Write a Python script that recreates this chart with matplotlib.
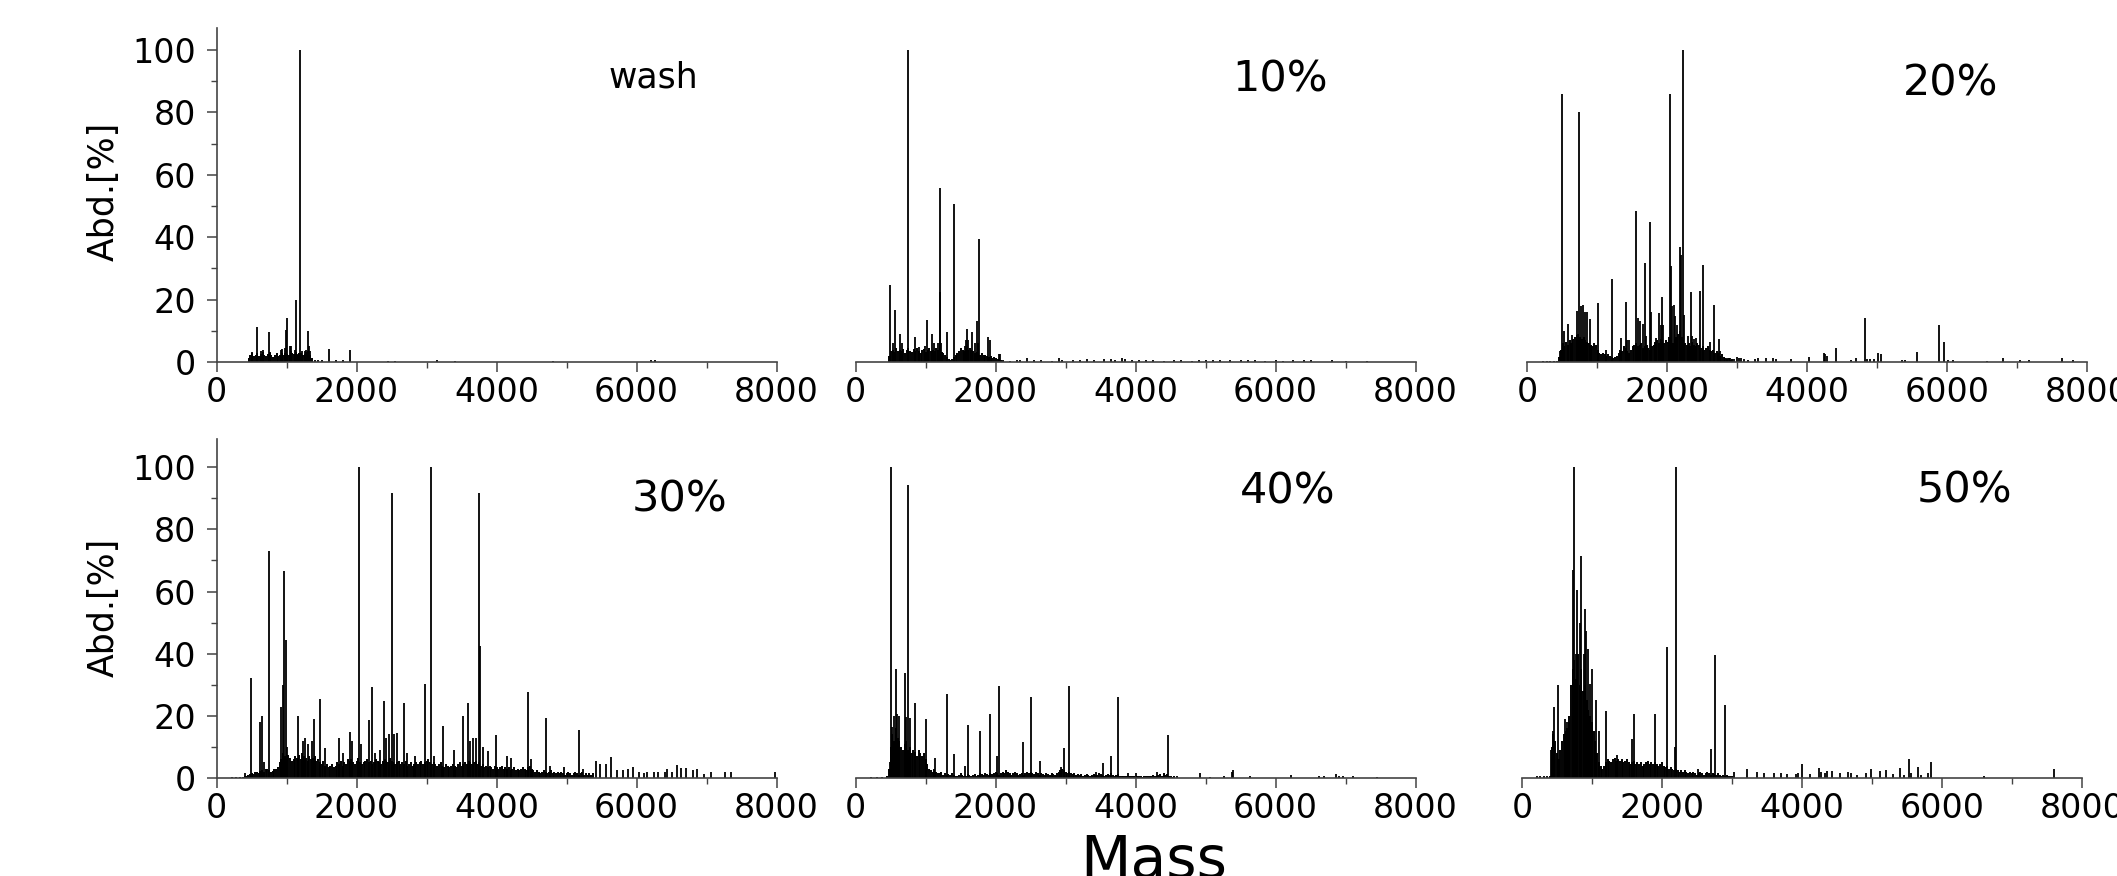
import numpy as np
import matplotlib
matplotlib.use('Agg')
import matplotlib.pyplot as plt
from matplotlib.ticker import MultipleLocator

plt.rcParams['font.family'] = ['DejaVu Sans']

# ---- Daten: (Masse, Abundanz %) der Peaks ----
wash_peaks = [(460, 1.0), (500, 3.2), (575, 11.1), (630, 3.5), (670, 3.8), (743, 9.5), (760, 3.2),
              (920, 4.0), (935, 4.2), (985, 4.5), (998, 10.4), (1012, 14.1), (1050, 5.0), (1069, 5.2),
              (1115, 4.0), (1131, 20.0), (1165, 2.6), (1199, 100.0), (1215, 3.4), (1265, 3.4),
              (1280, 4.0), (1304, 9.8), (1315, 5.0), (1330, 3.4), (1345, 1.0), (1400, 0.8), (1450, 0.8),
              (1500, 0.8), (1606, 4.3), (1700, 0.5), (1800, 0.5), (1908, 3.7), (2450, 0.3), (2550, 0.4),
              (3150, 0.5), (3400, 0.3), (4800, 0.3), (6200, 0.5), (6260, 0.5)]

p10_peaks = [(498, 24.8), (540, 6), (565, 16.6), (642, 9), (660, 6), (757, 100), (852, 8), (910, 4.8),
             (990, 5), (1015, 13.4), (1096, 9), (1115, 6), (1185, 6), (1201, 55.8), (1210, 22.4),
             (1225, 6), (1302, 9.6), (1412, 50.7), (1560, 5), (1575, 7), (1589, 10.7), (1610, 7),
             (1658, 9.5), (1710, 6), (1733, 13.1), (1750, 6), (1766, 39.5), (1886, 8), (1915, 7.2),
             (2050, 2.5), (2068, 2.5), (2100, 0.5), (2200, 0.4), (2300, 0.8), (2350, 0.6), (2450, 1.2),
             (2550, 0.5), (2650, 0.7), (2800, 0.4), (2900, 1.2), (2950, 0.6), (3100, 0.5), (3200, 0.7),
             (3300, 1.0), (3400, 0.8), (3550, 0.9), (3650, 1.1), (3700, 0.7), (3800, 1.3), (3850, 0.9),
             (3950, 0.6), (4050, 0.7), (4150, 0.6), (4250, 0.5), (4400, 0.4), (4550, 0.5), (4650, 0.5),
             (4800, 0.4), (4900, 0.6), (5000, 0.5), (5100, 0.5), (5200, 0.6), (5350, 0.6), (5500, 0.7),
             (5600, 0.6), (5700, 0.5), (5850, 0.4), (6000, 0.5), (6100, 0.4), (6250, 0.5), (6400, 0.7),
             (6500, 0.5), (6800, 0.5), (7000, 0.4), (7300, 0.4)]

p20_peaks = [(230, 0.3), (280, 0.3), (330, 0.3), (380, 0.3), (430, 0.3), (474, 3.4), (497, 86), (526, 9.8),
             (588, 12.3), (640, 8.5), (712, 16.5), (749, 80), (777, 18), (805, 18.2), (835, 16),
             (863, 16), (896, 13.8), (1014, 18.8), (1125, 3.8), (1208, 26.7), (1346, 7.7), (1412, 19.1),
             (1430, 7.2), (1450, 7), (1563, 48.5), (1580, 14), (1615, 13), (1650, 12.2), (1682, 31.7),
             (1700, 8.2), (1753, 45), (1770, 16), (1845, 7.7), (1890, 15.7), (1910, 12), (1928, 20.7),
             (1945, 12), (2042, 86), (2055, 30.9), (2075, 17.8), (2100, 18.4), (2120, 14.8), (2140, 12),
             (2190, 37), (2205, 34.4), (2222, 100), (2240, 15), (2300, 8.2), (2340, 22.4), (2360, 8.2),
             (2380, 7.4), (2420, 7.7), (2478, 22.6), (2515, 31), (2615, 6.4), (2677, 18.2), (2738, 7.4),
             (2760, 3.6), (2850, 1.2), (2900, 1.4), (2960, 1.0), (3000, 1.5), (3030, 1.2), (3060, 1.3),
             (3100, 1.0), (3150, 0.8), (3257, 1.0), (3300, 1.2), (3420, 1.4), (3512, 1.4), (3560, 1.0),
             (3766, 1.0), (4027, 1.5), (4240, 3.0), (4260, 2.5), (4280, 2.0), (4416, 4.6), (4622, 0.5),
             (4700, 1.2), (4834, 14), (4860, 1.0), (4900, 1.0), (4950, 1.0), (5010, 3.0), (5058, 2.6),
             (5350, 0.7), (5400, 0.7), (5574, 3.2), (5889, 11.7), (5950, 6.5), (6020, 0.7), (6080, 0.7),
             (6575, 0.4), (6799, 1.3), (7048, 0.5), (7170, 0.6), (7636, 1.2), (7806, 0.6)]

p30_peaks = [(224, 0.4), (280, 0.4), (330, 0.4), (380, 0.4), (410, 1.5), (495, 32.2), (626, 18), (649, 20),
             (680, 5), (750, 73), (920, 23), (945, 30), (966, 66.7), (989, 44.5), (1010, 10), (1167, 19.8),
             (1230, 12), (1260, 13), (1300, 11), (1360, 12), (1399, 19), (1476, 25.5), (1553, 9.8),
             (1755, 12.9), (1800, 8), (1902, 14.8), (1940, 12), (2033, 100), (2070, 11), (2172, 18.6),
             (2218, 29.3), (2260, 8), (2340, 9), (2388, 24.8), (2420, 13), (2460, 14), (2505, 91.6),
             (2540, 14), (2575, 14.6), (2682, 24), (2720, 8), (2830, 7), (2976, 30.1), (3061, 100),
             (3100, 7), (3239, 16.6), (3393, 9.1), (3525, 19.8), (3587, 24.2), (3620, 12), (3660, 13),
             (3700, 13), (3749, 91.6), (3765, 42.4), (3800, 10), (3880, 8.7), (3989, 13.7), (4150, 7),
             (4210, 6.5), (4452, 27.8), (4490, 6), (4700, 19.3), (4760, 4), (4960, 3.5), (5179, 15.3),
             (5230, 3), (5420, 5.5), (5480, 4.5), (5560, 4.5), (5635, 6.8), (5720, 2.5), (5800, 2.5),
             (5880, 3), (5950, 3.5), (6030, 2), (6100, 1.5), (6150, 2), (6250, 2), (6300, 2), (6400, 2),
             (6430, 2.8), (6500, 2), (6578, 4.2), (6640, 3.2), (6700, 3.2), (6800, 2.5), (6870, 3),
             (6960, 1.3), (7058, 2), (7260, 1.8), (7350, 2), (7985, 1.8)]

p40_peaks = [(216, 0.3), (300, 0.3), (380, 0.3), (452, 0.4), (490, 5), (503, 100), (528, 16.4), (553, 20),
             (579, 35.2), (598, 20.5), (620, 20), (706, 33.8), (725, 19.6), (751, 94.4), (775, 19.3),
             (846, 24.1), (1012, 18.9), (1139, 6.5), (1311, 27.1), (1413, 7.8), (1570, 4), (1610, 17),
             (1776, 15.1), (1916, 20.5), (2025, 7), (2043, 29.7), (2393, 11.6), (2501, 26.1), (2635, 5.5),
             (2935, 3.5), (2978, 9.8), (3055, 29.7), (3430, 2), (3538, 4.8), (3653, 7.1), (3755, 26.1),
             (3890, 1.5), (4000, 1.5), (4300, 2), (4400, 1.3), (4461, 13.7), (4590, 0.8), (4919, 1.5),
             (5065, 0.4), (5270, 0.7), (5385, 2.0), (5397, 2.7), (5640, 0.6), (6224, 1.0), (6625, 0.7),
             (6690, 0.7), (6866, 1.3), (6910, 0.8), (6960, 0.6), (7100, 0.8), (7445, 0.4)]

p50_peaks = [(212, 0.5), (260, 0.5), (310, 0.5), (360, 0.5), (412, 9.1), (436, 15), (461, 23), (509, 29.8),
             (612, 19.1), (636, 18), (667, 18), (727, 66.8), (739, 100), (776, 40), (788, 60.6),
             (830, 50), (848, 71.4), (885, 40), (897, 54.5), (909, 47.3), (939, 41.5), (976, 30.4),
             (994, 35), (1054, 25), (1097, 15), (1200, 21.5), (1363, 7.5), (1576, 12.7), (1600, 20.7),
             (1903, 20.7), (2066, 42.2), (2181, 10), (2200, 100), (2515, 3), (2697, 9.4), (2757, 39.5),
             (2897, 23.6), (3030, 1.8), (3212, 2.8), (3363, 1.8), (3454, 1.5), (3605, 1.5), (3696, 1.5),
             (3787, 1.2), (3908, 1.4), (3939, 1.6), (3994, 4.5), (4120, 1.3), (4241, 3.1), (4272, 2),
             (4333, 1.5), (4363, 2.2), (4424, 2.2), (4545, 1.5), (4654, 1.9), (4696, 1.5), (4787, 1),
             (4909, 1.5), (4987, 2.8), (5121, 2.2), (5200, 2.6), (5303, 1.2), (5394, 3.1), (5454, 1),
             (5527, 6), (5563, 1.5), (5660, 3.7), (5697, 1), (5806, 1.5), (5842, 5.2), (6605, 0.8),
             (7599, 2.8)]

# dichter Untergrund: Abundanz alle 25 Da ab Startmasse
floor_step = 25
wash_floor_start = 460
wash_floor = [1.2, 2.2, 2.8, 2.0, 2.4, 3.0, 2.0, 2.6, 3.2, 2.4, 1.8, 2.6, 3.0, 2.2, 1.6, 2.4, 2.8, 2.0,
              2.4, 2.8, 2.4, 3.0, 2.6, 2.2, 3.4, 3.0, 2.6, 3.2, 2.4, 2.8, 3.0, 2.4, 2.6, 3.2, 3.6, 2.4, 1.2]
p10_floor_start = 480
p10_floor = [2.0, 3.6, 4.0, 3.2, 4.4, 3.4, 4.0, 3.6, 4.2, 3.0, 3.8, 4.5, 3.6, 3.2, 4.2, 3.4, 4.6, 3.4,
             3.0, 3.8, 4.2, 3.2, 3.8, 4.4, 3.6, 4.0, 3.4, 4.6, 3.8, 4.2, 3.2, 3.0, 2.2, 1.6, 1.0, 0.8,
             1.0, 1.6, 2.2, 3.0, 3.6, 4.4, 4.0, 3.6, 4.4, 3.8, 4.6, 3.8, 3.4, 3.0, 3.2, 2.6, 2.4, 2.8,
             2.2, 2.4, 1.8, 1.6, 1.8, 1.4, 1.6, 1.2, 1.0, 0.8, 0.6]
p20_floor_start = 460
p20_floor = [1.5, 4.0, 6.0, 5.0, 6.5, 5.5, 7.0, 6.0, 7.5, 8.0,
             8.5, 9.0, 8.0, 7.5, 8.0, 7.0, 6.5, 6.0, 5.5, 5.0,
             6.0, 5.5, 4.0, 3.0, 2.5, 3.0, 2.5, 2.0, 2.5, 2.0,
             1.5, 1.2, 1.5, 2.0, 3.0, 4.0, 3.5, 5.0, 4.5, 3.5,
             3.0, 4.0, 5.0, 5.5, 6.0, 5.0, 5.5, 6.0, 4.5, 5.0,
             5.5, 4.5, 4.0, 5.0, 5.5, 6.5, 7.0, 6.0, 7.5, 6.5,
             6.0, 7.0, 6.5, 8.0, 7.0, 6.0, 7.5, 8.0, 9.0, 10.0,
             8.0, 7.0, 6.0, 5.5, 6.0, 5.0, 6.5, 5.5, 5.0, 6.0,
             5.5, 4.5, 5.0, 4.0, 4.5, 5.0, 4.0, 3.5, 4.0, 3.0,
             3.5, 3.0, 2.0, 2.5, 1.5, 1.2, 1.0, 1.2, 0.8, 1.0]
p30_floor_start = 400
p30_floor = [0.5, 0.8, 1.0, 1.2, 1.5, 1.2, 1.8, 2.0, 1.5, 2.2,
             2.5, 2.0, 2.8, 3.0, 2.5, 2.0, 2.2, 2.8, 3.0, 3.5,
             5.0, 6.0, 8.0, 7.0, 6.0, 7.5, 6.5, 5.5, 6.0, 7.0,
             6.5, 7.5, 6.0, 8.0, 7.0, 6.5, 5.5, 7.0, 6.0, 6.5,
             7.0, 5.5, 6.0, 5.0, 4.5, 5.5, 4.0, 4.5, 3.5, 4.0,
             4.5, 3.5, 4.0, 5.0, 4.5, 5.5, 4.0, 5.0, 4.5, 6.0,
             5.5, 6.0, 5.0, 4.5, 5.5, 6.5, 5.0, 4.5, 5.0, 5.5,
             6.0, 5.0, 5.5, 4.5, 5.0, 6.0, 5.5, 5.0, 4.5, 5.5,
             6.0, 5.5, 5.0, 6.5, 5.5, 5.0, 4.5, 5.0, 5.5, 4.5,
             5.0, 4.5, 5.5, 4.0, 4.5, 5.0, 4.0, 4.5, 5.0, 4.5,
             5.0, 5.5, 4.5, 5.0, 5.5, 6.0, 5.0, 4.5, 5.0, 4.5,
             4.0, 4.5, 5.0, 4.0, 3.5, 4.5, 4.0, 3.5, 4.0, 4.5,
             4.0, 3.5, 4.5, 5.0, 4.0, 4.5, 5.0, 4.5, 5.5, 5.0,
             4.5, 5.0, 5.5, 4.5, 5.0, 4.0, 4.5, 3.5, 4.0, 3.5,
             4.0, 3.5, 3.0, 4.0, 3.5, 3.0, 3.5, 4.0, 3.0, 3.5,
             3.0, 3.5, 2.5, 3.0, 3.5, 2.5, 3.0, 2.5, 3.0, 3.5,
             3.0, 2.5, 3.5, 4.0, 3.0, 2.5, 2.0, 2.5, 2.0, 1.5,
             2.0, 2.5, 2.0, 1.5, 2.0, 2.5, 1.5, 2.0, 1.5, 2.0,
             1.5, 2.0, 1.5, 1.0, 1.5, 2.0, 1.5, 1.0, 1.5, 2.0,
             1.5, 1.0, 1.5, 2.0, 1.0, 1.5, 1.0, 1.5, 1.0, 1.5]
p40_floor_start = 450
p40_floor = [0.5, 3.0, 10.0, 14.0, 12.0, 16.0, 13.0, 12.0, 10.0, 9.0,
             11.0, 12.0, 9.0, 10.0, 8.0, 9.0, 8.5, 7.0, 9.0, 8.0,
             7.0, 8.0, 6.0, 4.5, 3.0, 2.5, 2.0, 3.0, 2.0, 1.5,
             1.5, 2.0, 1.0, 1.5, 1.0, 1.2, 1.0, 1.5, 1.0, 0.8,
             0.8, 1.0, 1.5, 1.0, 0.5, 0.8, 1.2, 1.0, 0.8, 1.0,
             1.2, 0.8, 1.0, 1.5, 1.2, 1.0, 1.5, 1.2, 1.0, 1.5,
             1.2, 1.5, 2.0, 1.5, 1.0, 1.5, 2.0, 1.5, 2.5, 2.0,
             1.5, 1.0, 1.5, 2.0, 1.5, 1.0, 1.2, 1.5, 1.0, 1.5,
             2.0, 1.5, 2.0, 1.5, 1.2, 2.0, 1.5, 1.0, 1.5, 1.2,
             1.0, 1.5, 1.2, 1.0, 1.5, 1.2, 1.0, 1.5, 2.0, 2.5,
             3.0, 2.5, 2.0, 1.5, 2.0, 1.5, 1.2, 1.5, 1.0, 1.2,
             1.0, 1.2, 0.8, 1.0, 1.2, 1.0, 0.8, 1.0, 1.2, 1.0,
             1.0, 1.5, 1.2, 1.0, 0.8, 1.0, 1.2, 1.0, 1.5, 1.0,
             0.8, 1.0, 1.2, 0.8, 0.5, 0.8, 0.5, 0.8, 0.5, 0.5,
             0.8, 0.5, 0.3, 0.5, 0.8, 0.5, 0.3, 0.5, 0.8, 0.5,
             0.5, 0.8, 1.0, 0.8, 0.5, 1.0, 1.2, 0.8, 1.5, 1.0,
             1.2, 0.8, 0.5, 0.3, 0.5]
p50_floor_start = 400
p50_floor = [0.8, 10.0, 14.0, 12.0, 8.0, 6.0, 9.0, 12.0, 14.0, 15.0,
             16.0, 20.0, 30.0, 35.0, 38.0, 32.0, 40.0, 30.0, 35.0, 28.0,
             30.0, 25.0, 22.0, 20.0, 18.0, 15.0, 12.0, 8.0, 5.0, 4.0,
             3.0, 4.0, 5.0, 6.0, 5.5, 5.0, 6.0, 6.5, 5.5, 6.0,
             5.5, 6.0, 5.0, 5.5, 6.0, 5.0, 4.5, 5.0, 5.5, 4.5,
             5.0, 4.5, 5.0, 4.0, 4.5, 5.0, 5.5, 4.5, 5.0, 4.5,
             5.0, 4.5, 4.0, 4.5, 5.0, 4.0, 3.5, 4.0, 3.0, 3.5,
             3.0, 2.5, 3.0, 2.5, 2.0, 2.5, 2.0, 2.5, 2.0, 1.5,
             2.0, 1.5, 2.0, 1.5, 1.0, 1.5, 2.0, 1.5, 1.0, 1.5,
             2.0, 1.5, 1.0, 1.5, 1.2, 1.0, 1.5, 1.0, 0.8, 1.0,
             0.8, 1.0, 0.5, 0.8, 0.5, 0.3]

panel_names = ['wash', '10%', '20%', '30%', '40%', '50%']
panel_peaks = [wash_peaks, p10_peaks, p20_peaks, p30_peaks, p40_peaks, p50_peaks]
panel_floor = [wash_floor, p10_floor, p20_floor, p30_floor, p40_floor, p50_floor]
panel_floor_start = [wash_floor_start, p10_floor_start, p20_floor_start,
                     p30_floor_start, p40_floor_start, p50_floor_start]
x_ticks = [0, 2000, 4000, 6000, 8000]
y_ticks = [0, 20, 40, 60, 80, 100]

# ---- Layout in Pixeln (Bild 2117 x 876) ----
W, H = 2117, 876
fig = plt.figure(figsize=(W / 100, H / 100), dpi=100)

col_x0 = [[216.5, 855.5, 1527], [216.5, 855.5, 1522]]
ax_w = 560
row_base = [362, 778]          # Pixelzeile der x-Achse
row_top = [107, 109]           # ylim oben
row_pxunit = [3.12, 3.108]     # Pixel pro Prozent
label_pos = [(653, 77), (1280, 80), (1951, 83), (680, 500), (1288, 492), (1965, 490)]
label_size = [25, 31, 31, 31, 31, 31]

axis_col = '#444444'
for i in range(6):
    r, c = divmod(i, 3)
    h = row_top[r] * row_pxunit[r]
    ax = fig.add_axes([col_x0[r][c] / W, 1 - row_base[r] / H, ax_w / W, h / H])
    ax.patch.set_alpha(0)

    pk = np.array(panel_peaks[i], dtype=float)
    fl = np.array(panel_floor[i], dtype=float)
    fx = panel_floor_start[i] + floor_step * np.arange(len(fl))
    ax.vlines(fx, 0, fl, colors='black', linewidth=1.4)
    ax.vlines(pk[:, 0], 0, pk[:, 1], colors='black', linewidth=1.3)

    ax.set_xlim(0, 8000)
    ax.set_ylim(0, row_top[r])
    ax.set_xticks(x_ticks)
    ax.xaxis.set_minor_locator(MultipleLocator(1000))
    for s in ['top', 'right']:
        ax.spines[s].set_visible(False)
    ax.spines['bottom'].set_color(axis_col)
    ax.spines['bottom'].set_linewidth(1.2)
    ax.tick_params(axis='x', which='major', direction='out', length=7, width=1.1,
                   color=axis_col, labelsize=24, pad=3)
    ax.tick_params(axis='x', which='minor', direction='out', length=4, width=1.0, color=axis_col)
    if c == 0:
        ax.set_yticks(y_ticks)
        ax.yaxis.set_minor_locator(MultipleLocator(10))
        ax.spines['left'].set_color(axis_col)
        ax.spines['left'].set_linewidth(1.2)
        ax.tick_params(axis='y', which='major', direction='out', length=7, width=1.1,
                       color=axis_col, labelsize=24, pad=8)
        ax.tick_params(axis='y', which='minor', direction='out', length=4, width=1.0, color=axis_col)
    else:
        ax.spines['left'].set_visible(False)
        ax.set_yticks([])
    ax.set_zorder(2 if c == 0 else 1)

    lx, ly = label_pos[i]
    fig.text(lx / W, 1 - ly / H, panel_names[i], fontsize=label_size[i],
             ha='center', va='center')

# y-Achsenbeschriftung
fig.text(104 / W, 1 - 191 / H, 'Abd.[%]', rotation=90, fontsize=25, ha='center', va='center')
fig.text(104 / W, 1 - 607 / H, 'Abd.[%]', rotation=90, fontsize=25, ha='center', va='center')
# x-Achsenbeschriftung
fig.text(1154 / W, 1 - 878 / H, 'Mass', fontsize=42, ha='center', va='baseline')

fig.savefig('out.png', dpi=100)
